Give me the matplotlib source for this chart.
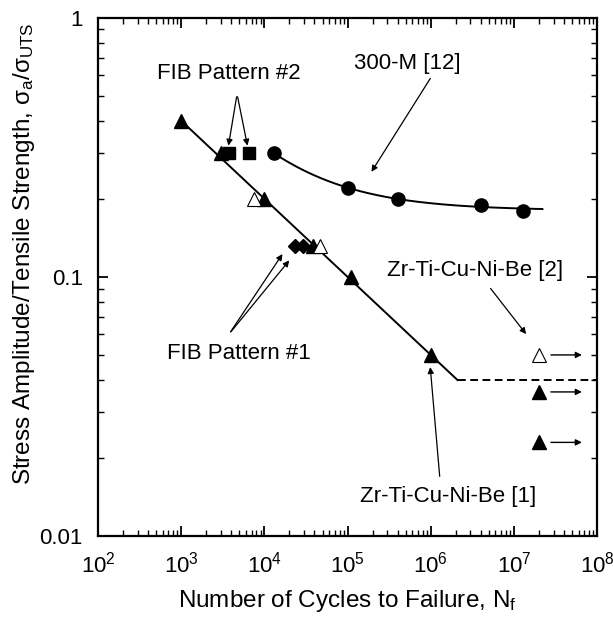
import matplotlib
matplotlib.use("Agg")
import matplotlib.pyplot as plt
from matplotlib.ticker import NullFormatter
import numpy as np

plt.rcParams['font.family'] = ['Liberation Sans', 'DejaVu Sans']
plt.rcParams['mathtext.fontset'] = 'custom'
plt.rcParams['mathtext.rm'] = 'Liberation Sans'
plt.rcParams['mathtext.it'] = 'Liberation Sans:italic'

# Zr-Ti-Cu-Ni-Be [1] (triangles pleins)
zr1_n = [1e3, 3e3, 1e4, 1.1e5, 1e6, 3.85e4]
zr1_s = [0.40, 0.30, 0.20, 0.10, 0.05, 0.131]
zr1_runout_n = [2e7, 2e7]
zr1_runout_s = [0.036, 0.023]

# Zr-Ti-Cu-Ni-Be [2] (triangles vides)
zr2_n = [7.6e3, 4.6e4]
zr2_s = [0.20, 0.131]
zr2_runout_n = [2e7]
zr2_runout_s = [0.05]

# FIB
fib2_n = [3.75e3, 6.5e3]
fib2_s = [0.30, 0.30]
fib1_n = [2.35e4, 2.9e4]
fib1_s = [0.131, 0.131]

# 300-M [12]
m300_n = [1.3e4, 1e5, 4e5, 4e6, 1.3e7]
m300_s = [0.30, 0.22, 0.20, 0.19, 0.18]

# droite de Basquin et limite d'endurance
basq_n = [1e3, 2.1e6]
basq_s = [0.40, 0.040]
lim_n = [2.1e6, 1e8]

fig = plt.figure(figsize=(6.13, 6.17), dpi=100)
ax = fig.add_axes([0.16, 0.131, 0.814, 0.8405])
ax.set_xscale('log')
ax.set_yscale('log')

ax.plot(basq_n, basq_s, 'k-', lw=1.4)
ax.plot(lim_n, [basq_s[-1]] * 2, 'k--', lw=1.4, dashes=(4, 2.3))

# courbe 300-M : s = c + A * N^-k, k choisi par balayage
N = np.array(m300_n)
S = np.array(m300_s)
best = None
for k in np.linspace(0.1, 1.5, 141):
    M = np.column_stack([np.ones_like(N), N**-k])
    sol, res, *_ = np.linalg.lstsq(M, S, rcond=None)
    err = np.sum((M @ sol - S)**2)
    if best is None or err < best[0]:
        best = (err, k, sol)
_, k, (c, A) = best
nf = np.logspace(np.log10(m300_n[0]), np.log10(2.2e7), 200)
ax.plot(nf, c + A * nf**-k, 'k-', lw=1.4)

ms = 9.5
ax.plot(zr1_n, zr1_s, '^', color='k', ms=ms, ls='none')
ax.plot(zr1_runout_n, zr1_runout_s, '^', color='k', ms=ms, ls='none')
ax.plot(zr2_n, zr2_s, '^', mfc='white', mec='k', mew=0.8, ms=ms, ls='none')
ax.plot(zr2_runout_n, zr2_runout_s, '^', mfc='white', mec='k', mew=0.8, ms=ms, ls='none')
ax.plot(fib2_n, fib2_s, 's', color='k', ms=9, ls='none')
ax.plot(fib1_n, fib1_s, 'D', color='k', ms=7, ls='none')
ax.plot(m300_n, m300_s, 'o', color='k', ms=9.5, ls='none')

# flèches de non-rupture
for n, s in zip(zr1_runout_n + zr2_runout_n, zr1_runout_s + zr2_runout_s):
    ax.annotate('', xy=(n * 3.55, s), xytext=(n * 1.29, s),
                arrowprops=dict(arrowstyle='-|>', color='k', lw=1, mutation_scale=9))

arw = dict(arrowstyle='-|>', color='k', lw=0.9, mutation_scale=9)
fs = 16
ax.text(5.2e5, 0.668, '300-M [12]', fontsize=fs, ha='center', va='center')
ax.annotate('', xy=(1.86e5, 0.249), xytext=(1.03e6, 0.595), arrowprops=arw)

ax.text(3.76e3, 0.606, 'FIB Pattern #2', fontsize=fs, ha='center', va='center')
ax.annotate('', xy=(3.65e3, 0.313), xytext=(4.69e3, 0.507), arrowprops=arw)
ax.annotate('', xy=(6.35e3, 0.313), xytext=(4.69e3, 0.507), arrowprops=arw)

ax.text(4.95e3, 0.0505, 'FIB Pattern #1', fontsize=fs, ha='center', va='center')
ax.annotate('', xy=(1.72e4, 0.125), xytext=(3.76e3, 0.0602), arrowprops=arw)
ax.annotate('', xy=(2.09e4, 0.118), xytext=(3.76e3, 0.0602), arrowprops=arw)

ax.text(3.4e6, 0.106, 'Zr-Ti-Cu-Ni-Be [2]', fontsize=fs, ha='center', va='center')
ax.annotate('', xy=(1.47e7, 0.059), xytext=(5.0e6, 0.092), arrowprops=arw)

ax.text(1.61e6, 0.0142, 'Zr-Ti-Cu-Ni-Be [1]', fontsize=fs, ha='center', va='center')
ax.annotate('', xy=(9.8e5, 0.046), xytext=(1.29e6, 0.0166), arrowprops=arw)

ax.set_xlim(1e2, 1e8)
ax.set_ylim(0.01, 1)
ax.set_yticks([0.01, 0.1, 1])
ax.set_yticklabels(['0.01', '0.1', '1'])
ax.xaxis.set_minor_formatter(NullFormatter())
ax.yaxis.set_minor_formatter(NullFormatter())
ax.tick_params(which='both', direction='in', top=True, right=True, labelsize=16)
ax.tick_params(which='major', length=7.5, width=1.3)
ax.tick_params(which='minor', length=4.5, width=1)
ax.tick_params(axis='x', pad=11)
ax.tick_params(axis='y', pad=11)
for sp in ax.spines.values():
    sp.set_linewidth(1.6)

ax.set_xlabel('Number of Cycles to Failure, N$_\\mathrm{f}$', fontsize=17.5, labelpad=8)
ax.set_ylabel('Stress Amplitude/Tensile Strength, $\\mathrm{\\sigma_a/\\sigma_{UTS}}$',
              fontsize=17.5)
ax.yaxis.set_label_coords(-0.122, 0.545)

plt.savefig('out.png', dpi=100)
